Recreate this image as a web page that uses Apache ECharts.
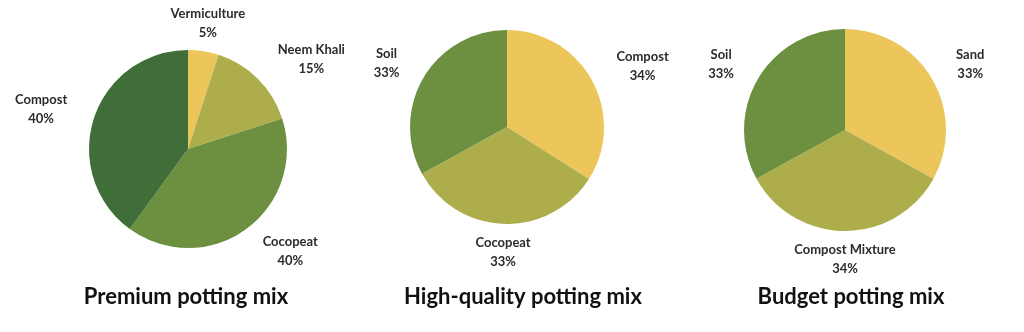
<!DOCTYPE html>
<html>
<head>
<meta charset="utf-8">
<script src="https://cdn.jsdelivr.net/npm/echarts@6/dist/echarts.min.js"></script>
<style>
html,body{margin:0;padding:0;background:#fff;}
#chart{width:1024px;height:332px;}
</style>
</head>
<body>
<div id="chart"></div>
<script>
// ---- data ----
const premiumNames = ['Vermiculture', 'Neem Khali', 'Cocopeat', 'Compost'];
const premiumValues = [5, 15, 40, 40];
const highNames = ['Compost', 'Cocopeat', 'Soil'];
const highValues = [34, 33, 33];
const budgetNames = ['Sand', 'Compost Mixture', 'Soil'];
const budgetValues = [33, 34, 33];
const chartTitles = ['Premium potting mix', 'High-quality potting mix', 'Budget potting mix'];

// ---- styles ----
const YELLOW = '#ecc55b', OLIVE = '#adad4b', MID = '#6c9040', DARK = '#3f6e38';
const premiumColors = [YELLOW, OLIVE, MID, DARK];
const threeColors = [YELLOW, OLIVE, MID];

const allNames = [premiumNames, highNames, budgetNames];
const allValues = [premiumValues, highValues, budgetValues];
const allColors = [premiumColors, threeColors, threeColors];
const centers = [[188, 149], [507, 127], [845, 130]];
const radii = [99, 97, 101];
const titleX = [181, 518, 846];

function midDx(si, i) {
  const vals = allValues[si];
  const sum = vals.reduce((a, b) => a + b, 0);
  let before = 0;
  for (let k = 0; k < i; k++) before += vals[k];
  const mid = (before + vals[i] / 2) / sum * Math.PI * 2;
  return Math.sin(mid);
}

const series = allValues.map((vals, si) => ({
  type: 'pie',
  center: centers[si],
  radius: radii[si],
  startAngle: 90,
  clockwise: true,
  avoidLabelOverlap: false,
  silent: true,
  animation: false,
  label: {
    show: true,
    position: 'outside',
    formatter: '{b}\n{c}%',
    fontFamily: 'Lato',
    fontWeight: 'bold',
    fontSize: 13,
    lineHeight: 19,
    color: '#2b2b2b',
    distanceToLabelLine: 0
  },
  labelLine: { show: false, length: 28, length2: 0 },
  labelLayout: function (p) {
    const dx = midDx(p.seriesIndex, p.dataIndex);
    const w = p.labelRect.width;
    if (Math.abs(dx) < 0.3) {
      return { align: 'center' };
    }
    return { align: 'center', dx: (p.align === 'right' ? -1 : 1) * w / 2 };
  },
  data: allNames[si].map((n, i) => ({
    name: n,
    value: vals[i],
    itemStyle: { color: allColors[si][i], borderWidth: 0 }
  }))
}));

const chart = echarts.init(document.getElementById('chart'), null, { renderer: 'canvas' });
chart.setOption({
  backgroundColor: '#ffffff',
  title: chartTitles.map((t, i) => ({
    text: t,
    left: titleX[i],
    top: 281,
    textAlign: 'center',
    textStyle: { fontFamily: 'Lato', fontWeight: 'bold', fontSize: 22, color: '#111111' }
  })),
  series: series
});
</script>
</body>
</html>
